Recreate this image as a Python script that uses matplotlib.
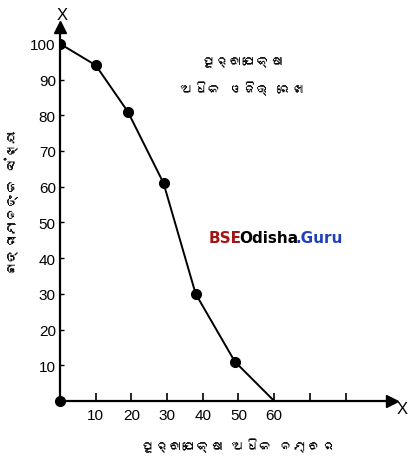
import matplotlib
matplotlib.use("Agg")
import matplotlib.pyplot as plt
from matplotlib import font_manager
from fontTools.ttLib import TTFont

# more-than ogive
marks = [0, 10, 19, 29, 38, 49, 60]
students = [100, 94, 81, 61, 30, 11, 0]
xticks = [10, 20, 30, 40, 50, 60, 70, 80]
xticklabels = ["10", "20", "30", "40", "50", "60", "", ""]
yticks = [10, 20, 30, 40, 50, 60, 70, 80, 90, 100]

title_txt = "ପୂର୍ବାପେକ୍ଷା\nଅଧିକ ଓଜିଭ୍ ରେଖା"
xlabel_txt = "ପୂର୍ବାପେକ୍ଷା ଅଧିକ ନମ୍ବର"
ylabel_txt = "ଛାତ୍ରୀମାନଙ୍କ ସଂଖ୍ୟା"


def find_odia_font():
    for f in font_manager.fontManager.ttflist:
        try:
            tt = TTFont(f.fname, fontNumber=0, lazy=True)
            cmap = tt.getBestCmap()
            if cmap and 0x0B2A in cmap and 0x0B3E in cmap:
                return f.name
        except Exception:
            pass
    return None


odia = find_odia_font()
odia_fam = [odia, "DejaVu Sans"] if odia else ["DejaVu Sans"]

plt.rcParams['font.family'] = ['Liberation Sans', 'DejaVu Sans']

fig = plt.figure(figsize=(4.12, 4.6), dpi=100)
ax = fig.add_axes([60/412, 58/460, 332/412, 374/460])

ax.plot(marks, students, color='black', lw=1.4, zorder=3)
ax.plot(marks[:-1], students[:-1], 'o', color='black', ms=7, zorder=4)
ax.plot([0], [0], 'o', color='black', ms=7, clip_on=False, zorder=4)

ax.set_xlim(0, 93)
ax.set_ylim(0, 104.7)
for s in ['top', 'right']:
    ax.spines[s].set_visible(False)
ax.spines['left'].set_linewidth(1.6)
ax.spines['bottom'].set_linewidth(1.6)

# arrow heads
ax.plot([93], [0], '>', color='black', ms=8, clip_on=False)
ax.plot([0], [104.7], '^', color='black', ms=8, clip_on=False)

ax.set_xticks(xticks)
ax.set_xticklabels(xticklabels)
ax.set_yticks(yticks)
ax.tick_params(axis='x', direction='in', length=6, width=1.2, labelsize=11, pad=5)
ax.tick_params(axis='y', direction='in', length=3, width=1, labelsize=11, pad=3)

fig.text(62/412, 1 - 16/460, "X", fontsize=12, ha='center', va='center')
fig.text(402/412, 1 - 410/460, "X", fontsize=12, ha='center', va='center')

fig.text(243/412, 1 - 76/460, title_txt, family=odia_fam, fontsize=10,
         ha='center', va='center', linespacing=2.1)
fig.text(238/412, 1 - 446/460, xlabel_txt, family=odia_fam, fontsize=10,
         ha='center', va='center')
fig.text(12/412, 1 - 202/460, ylabel_txt, family=odia_fam, fontsize=10,
         ha='center', va='center', rotation=90)

# watermark
t1 = fig.text(209/412, 1 - 243/460, "BSE", fontsize=11, weight='bold',
              color='#a31515', family='DejaVu Sans')
t2 = ax.annotate("Odisha", xy=(1, 0), xycoords=t1, xytext=(-2, 0),
                 textcoords='offset points', va='bottom', fontsize=11,
                 weight='bold', color='black', family='DejaVu Sans')
ax.annotate(".Guru", xy=(1, 0), xycoords=t2, xytext=(-2, 0),
            textcoords='offset points', va='bottom', fontsize=11,
            weight='bold', color='#1f3fbf', family='DejaVu Sans')

fig.savefig("out.png", dpi=100)
